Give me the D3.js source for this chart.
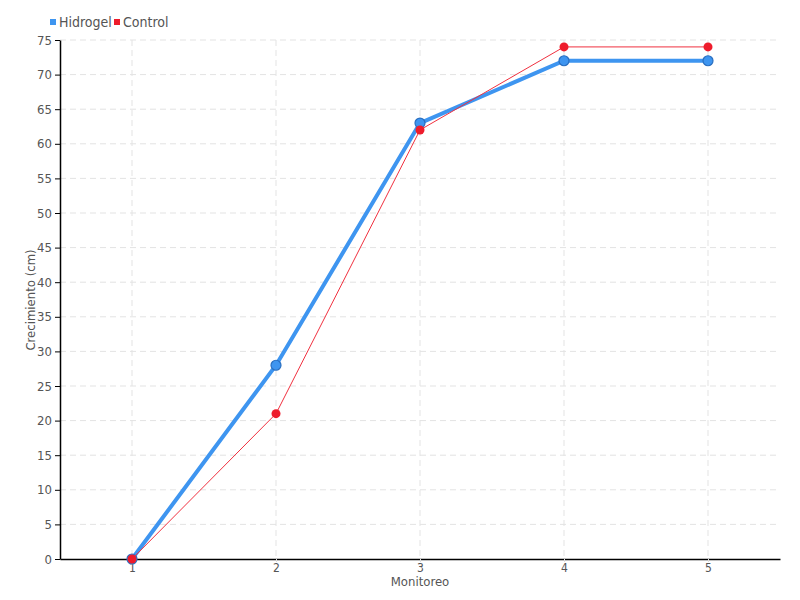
<!DOCTYPE html>
<html>
<head>
<meta charset="utf-8">
<script src="https://cdn.jsdelivr.net/npm/d3@7"></script>
<style>
  body { margin: 0; background: #fff; }
  text { font-family: "DejaVu Sans Condensed", "DejaVu Sans", sans-serif; font-stretch: condensed; fill: #555; }
</style>
</head>
<body>
<svg id="chart" width="800" height="600"></svg>
<script>
var categories = ["1", "2", "3", "4", "5"];
var hidrogel = [0, 28, 63, 72, 72];
var control = [0, 21, 62, 74, 74];
var yTicks = d3.range(0, 80, 5);

var svg = d3.select("#chart"),
    mLeft = 60, mRight = 780, mTop = 40, mBottom = 559;

var x = d3.scalePoint().domain(categories).range([mLeft, mRight]).padding(0.5);
var y = d3.scaleLinear().domain([0, 75]).range([mBottom, mTop]);

// grid
svg.append("g").selectAll("line").data(yTicks.slice(1)).enter().append("line")
    .attr("x1", mLeft).attr("x2", mRight)
    .attr("y1", function (d) { return y(d); }).attr("y2", function (d) { return y(d); })
    .attr("stroke", "#e3e3e3").attr("stroke-dasharray", "6,4");
svg.append("g").selectAll("line").data(categories).enter().append("line")
    .attr("x1", function (d) { return x(d); }).attr("x2", function (d) { return x(d); })
    .attr("y1", mTop).attr("y2", mBottom)
    .attr("stroke", "#e3e3e3").attr("stroke-dasharray", "6,4");

// axes
var yAxis = svg.append("g").attr("transform", "translate(" + mLeft + ",0)")
    .call(d3.axisLeft(y).tickValues(yTicks).tickSize(5).tickSizeOuter(0).tickPadding(3));
yAxis.select(".domain").attr("stroke", "#000").attr("stroke-width", 1.5);
yAxis.selectAll(".tick line").attr("stroke", "#000");
yAxis.selectAll("text").style("font-size", "13px").attr("fill", "#555");

var xAxis = svg.append("g").attr("transform", "translate(0," + mBottom + ")")
    .call(d3.axisBottom(x).tickSize(3).tickSizeOuter(0).tickPadding(1));
xAxis.select(".domain").attr("stroke", "#000").attr("stroke-width", 1.5);
xAxis.selectAll(".tick line").attr("stroke", "#ddd");
xAxis.selectAll("text").style("font-size", "12px").attr("fill", "#555");

// axis titles
svg.append("text").attr("x", 420).attr("y", 586).attr("text-anchor", "middle")
    .style("font-size", "13px").text("Monitoreo");
svg.append("text").attr("transform", "translate(35,300) rotate(-90)").attr("text-anchor", "middle")
    .style("font-size", "13px").text("Crecimiento (cm)");

var line = d3.line()
    .x(function (d, i) { return x(categories[i]); })
    .y(function (d) { return y(d); });

// hidrogel series
svg.append("path").datum(hidrogel).attr("d", line)
    .attr("fill", "none").attr("stroke", "#3e95f0").attr("stroke-width", 4);
svg.append("g").selectAll("circle").data(hidrogel).enter().append("circle")
    .attr("cx", function (d, i) { return x(categories[i]); })
    .attr("cy", function (d) { return y(d); })
    .attr("r", 5).attr("fill", "#3e95f0").attr("stroke", "#2a6fc0").attr("stroke-width", 1.2);

// control series
svg.append("path").datum(control).attr("d", line)
    .attr("fill", "none").attr("stroke", "#f0303f").attr("stroke-width", 1);
svg.append("g").selectAll("circle").data(control).enter().append("circle")
    .attr("cx", function (d, i) { return x(categories[i]); })
    .attr("cy", function (d) { return y(d); })
    .attr("r", 4.5).attr("fill", "#ee1c2c");

// legend
var legend = [{ name: "Hidrogel", color: "#3e95f0", x: 50 }, { name: "Control", color: "#ee1c2c", x: 114 }];
var lg = svg.append("g").selectAll("g").data(legend).enter().append("g")
    .attr("transform", function (d) { return "translate(" + d.x + ",0)"; });
lg.append("rect").attr("x", 0).attr("y", 19).attr("width", 6).attr("height", 6)
    .attr("fill", function (d) { return d.color; });
lg.append("text").attr("x", 9).attr("y", 27).style("font-size", "14px")
    .text(function (d) { return d.name; });
</script>
</body>
</html>
